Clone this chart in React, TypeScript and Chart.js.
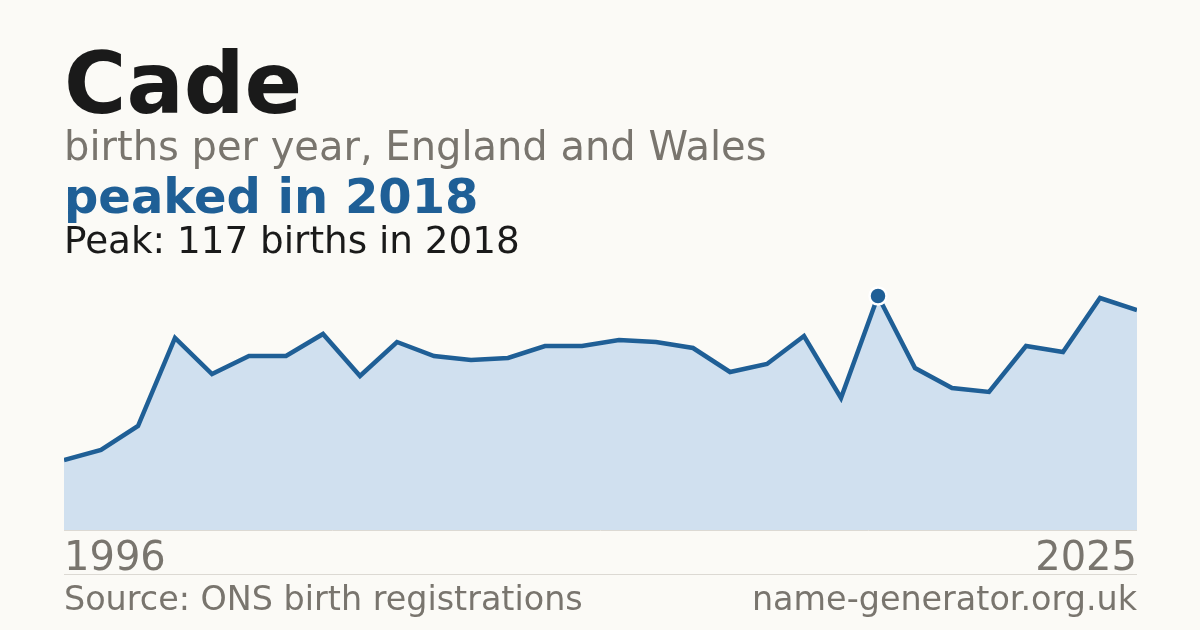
import React, { useEffect, useRef } from "react";
import { Chart, registerables } from "chart.js";

Chart.register(...registerables);

const years = [
  "1996", "1997", "1998", "1999", "2000", "2001", "2002", "2003", "2004", "2005",
  "2006", "2007", "2008", "2009", "2010", "2011", "2012", "2013", "2014", "2015",
  "2016", "2017", "2018", "2019", "2020", "2021", "2022", "2023", "2024", "2025",
];
const births = [
  35, 40, 52, 96, 78, 87, 87, 98, 77, 94,
  87, 85, 86, 92, 92, 95, 94, 91, 79, 83,
  97, 66, 117, 81, 71, 69, 92, 89, 116, 110,
];
const peakYear = "2018";
const peakValue = 117;
const yMin = 0;
const yMax = 120;

const title = "Cade";
const subtitle = "births per year, England and Wales";
const headline = "peaked in 2018";
const peakNote = `Peak: ${peakValue} births in ${peakYear}`;
const sourceText = "Source: ONS birth registrations";
const siteText = "name-generator.org.uk";

const BG = "#fbfaf6";
const BLUE = "#1f5f96";
const FILL = "#d0e0ef";
const GRAY = "#79756e";
const DARK = "#1a1a1a";

const FONT = "'DejaVu Sans', sans-serif";

function textStyle(
  fs: number,
  baseline: number,
  color: string,
  weight: number | string,
  align: "left" | "right"
): React.CSSProperties {
  const s: React.CSSProperties = {
    position: "absolute",
    top: baseline - 0.846 * fs,
    fontSize: fs,
    lineHeight: `${fs}px`,
    color,
    fontWeight: weight as any,
    whiteSpace: "nowrap",
    margin: 0,
  };
  if (align === "left") s.left = 64;
  else s.right = 63;
  return s;
}

export default function App() {
  const ref = useRef<HTMLCanvasElement>(null);

  useEffect(() => {
    if (!ref.current) return;
    const peakIdx = years.indexOf(peakYear);
    const baselinePlugin = {
      id: "baseline",
      afterDraw(chart: any) {
        const { ctx, chartArea, scales } = chart;
        const y = Math.round(scales.y.getPixelForValue(yMin)) + 0.5;
        ctx.save();
        ctx.strokeStyle = "#dcd9d3";
        ctx.lineWidth = 1;
        ctx.beginPath();
        ctx.moveTo(chartArea.left, y);
        ctx.lineTo(chartArea.right, y);
        ctx.stroke();
        ctx.restore();
      },
    };
    const chart = new Chart(ref.current, {
      type: "line",
      data: {
        labels: years,
        datasets: [
          {
            data: births,
            borderColor: BLUE,
            borderWidth: 4.5,
            backgroundColor: FILL,
            fill: "origin",
            tension: 0,
            pointRadius: (ctx: any) => (ctx.dataIndex === peakIdx ? 8.5 : 0),
            pointHoverRadius: (ctx: any) => (ctx.dataIndex === peakIdx ? 8.5 : 0),
            pointBackgroundColor: BLUE,
            pointBorderColor: "#ffffff",
            pointBorderWidth: 2.5,
            clip: { left: 0, right: 0, top: false, bottom: 0 } as any,
          },
        ],
      },
      options: {
        animation: false,
        responsive: false,
        devicePixelRatio: 1,
        events: [],
        layout: { padding: { left: 64, right: 63, top: 290, bottom: 100 } },
        scales: {
          x: { type: "category", display: false, offset: false },
          y: { display: false, min: yMin, max: yMax },
        },
        plugins: {
          legend: { display: false },
          tooltip: { enabled: false },
        },
      },
      plugins: [baselinePlugin],
    });
    return () => chart.destroy();
  }, []);

  return (
    <div
      style={{
        position: "fixed",
        left: 0,
        top: 0,
        width: 1200,
        height: 630,
        background: BG,
        overflow: "hidden",
        fontFamily: FONT,
      }}
    >
      <canvas
        ref={ref}
        width={1200}
        height={630}
        style={{ position: "absolute", left: 0, top: 0, width: 1200, height: 630 }}
      />
      <div style={textStyle(85, 112.5, DARK, 700, "left")}>{title}</div>
      <div style={textStyle(40, 159.5, GRAY, 400, "left")}>{subtitle}</div>
      <div style={textStyle(48, 212.5, BLUE, 700, "left")}>{headline}</div>
      <div style={textStyle(37.3, 253.5, DARK, 400, "left")}>{peakNote}</div>
      <div style={textStyle(40, 570, GRAY, 400, "left")}>{years[0]}</div>
      <div style={textStyle(40, 570, GRAY, 400, "right")}>{years[years.length - 1]}</div>
      <div
        style={{
          position: "absolute",
          left: 64,
          right: 63,
          top: 574,
          height: 1,
          background: "#dcd9d3",
        }}
      />
      <div style={textStyle(33.4, 610, GRAY, 400, "left")}>{sourceText}</div>
      <div style={textStyle(33.4, 610, GRAY, 400, "right")}>{siteText}</div>
    </div>
  );
}
